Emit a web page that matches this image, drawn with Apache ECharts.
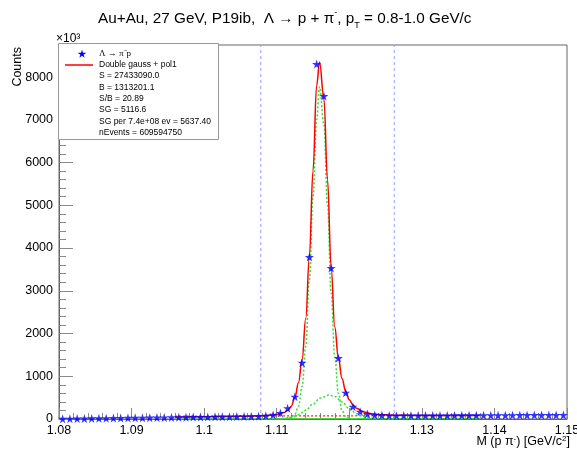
<!DOCTYPE html>
<html><head><meta charset="utf-8">
<script src="https://cdn.jsdelivr.net/npm/echarts@6/dist/echarts.min.js"></script>
<style>html,body{margin:0;padding:0;background:#fff}#c{width:577px;height:451px}</style>
</head><body><div id="c"></div>
<script>
// ---- data ----
const binCenters = [1.0805,1.0815,1.0825,1.0835,1.0845,1.0855,1.0865,1.0875,1.0885,1.0895,
  1.0905,1.0915,1.0925,1.0935,1.0945,1.0955,1.0965,1.0975,1.0985,1.0995,
  1.1005,1.1015,1.1025,1.1035,1.1045,1.1055,1.1065,1.1075,1.1085,1.1095,
  1.1105,1.1115,1.1125,1.1135,1.1145,1.1155,1.1165,1.1175,1.1185,1.1195,
  1.1205,1.1215,1.1225,1.1235,1.1245,1.1255,1.1265,1.1275,1.1285,1.1295,
  1.1305,1.1315,1.1325,1.1335,1.1345,1.1355,1.1365,1.1375,1.1385,1.1395,
  1.1405,1.1415,1.1425,1.1435,1.1445,1.1455,1.1465,1.1475,1.1485,1.1495];
const counts = [5,7,10,12,14,17,19,21,24,26,
  28,30,32,34,36,38,40,42,44,46,
  48,50,52,54,56,58,61,65,76,96,
  142,252,522,1317,3790,8304,7556,3532,1427,615,
  288,171,117,92,85,80,78,79,80,80,
  81,82,82,83,84,84,85,86,86,87,
  88,88,89,90,90,91,92,92,93,94];

const fitX = [1.096,1.100,1.104,1.106,1.108,1.109,1.110,1.111,1.1115,1.112,1.1125,1.113,1.1135,1.114,1.1145,1.115,1.1155,1.1159,1.1165,1.117,1.1175,1.118,1.1185,1.119,1.1195,1.120,1.1205,1.121,1.122,1.123,1.124,1.126,1.130,1.134,1.138];
const fitY = [45,52,60,66,75,85,105,150,200,300,500,850,1400,2350,3800,5800,7800,8350,7500,5600,3550,2150,1420,950,650,450,330,250,165,125,105,90,82,82,84];

const narrowX = [1.1105,1.111,1.1115,1.112,1.1125,1.113,1.1135,1.114,1.1145,1.115,1.1155,1.1159,1.1165,1.117,1.1175,1.118,1.1185,1.119,1.1195,1.120,1.1205,1.121];
const narrowY = [0,5,15,40,110,300,760,1700,3250,5200,7000,7770,6900,5000,2950,1450,600,200,60,15,3,0];

const wideX = [1.108,1.110,1.111,1.112,1.113,1.114,1.115,1.116,1.1172,1.118,1.119,1.120,1.121,1.122,1.123,1.124,1.126];
const wideY = [0,5,15,40,100,205,350,490,560,525,400,245,125,50,17,5,0];

const bkgX = [1.096,1.138];
const bkgY = [66,82];
const baseX = [1.096,1.138];
const baseY = [0,15];

const sigLimits = [1.1078,1.1262];

const legendSeries = ['Λ → π⁻p','Double gauss + pol1'];
const legendLines = ['S = 27433090.0','B = 1313201.1','S/B = 20.89','SG = 5116.6','SG per 7.4e+08 ev = 5637.40','nEvents = 609594750'];
const xTicks = {min:1.08,max:1.15,step:0.01};
const yTicks = {min:0,max:8750,step:1000};

// ---- build ----
const zip = (a,b)=>a.map((v,i)=>[v,b[i]]);
const starPts = [[50,0],[61,35],[98,35],[68,57],[79,91],[50,70],[21,91],[32,57],[2,35],[39,35]];
const star = 'path://M' + starPts.map(p=>p.join(',')).join(' L') + ' Z';
const green = '#33e033';
const ff = '"Liberation Sans", Arial, sans-serif';
const rowTop = 49, rowStep = 11.3;

const chart = echarts.init(document.getElementById('c'), null, {renderer:'canvas'});
const graphics = [
  {type:'rect', left:58, top:43, z:1, shape:{width:160,height:96}, style:{fill:'#fff', stroke:'#999', lineWidth:1}},
  {type:'polygon', z:6, shape:{points:starPts.map(p=>[77.5+p[0]*0.09, 49.5+p[1]*0.09])}, style:{fill:'#0000ff'}},
  {type:'line', z:6, shape:{x1:65, y1:65, x2:93, y2:65}, style:{stroke:'#ff0000', lineWidth:1.5}},
  {type:'text', left:99, top:rowTop, z:6, style:{text:legendSeries[0], font:'9px "Liberation Serif", serif', fill:'#000'}},
  {type:'text', left:99, top:rowTop+rowStep, z:6, style:{text:legendSeries[1], font:'8.5px '+ff, fill:'#000'}},
  {type:'text', left:56, top:33, style:{text:'×10³', font:'12px '+ff, fill:'#000'}},
  {type:'text', right:7, top:435, style:{rich:{a:{fontSize:12.5,fontFamily:'"Liberation Sans"'},s:{fontSize:8,verticalAlign:'top',fontFamily:'"Liberation Sans"',lineHeight:10}}, text:'{a|M (p π}{s|-}{a|) [GeV/c}{s|2}{a|]}', fill:'#000'}},
  {type:'text', x:11, y:47, rotation:Math.PI/2, style:{text:'Counts', font:'12.5px '+ff, fill:'#000', align:'right', verticalAlign:'top'}}
];
legendLines.forEach((t,i)=>{
  graphics.push({type:'text', left:99, top:rowTop+(i+2)*rowStep, z:6, style:{text:t, font:'8.5px '+ff, fill:'#000'}});
});

const limitSeries = sigLimits.map((v,i)=>({name:'lim'+i, type:'line', data:[[v,yTicks.min],[v,yTicks.max]], showSymbol:false, symbol:'none',
  lineStyle:{color:'#9a9aff', type:[3,3], width:1}, z:1, silent:true}));

chart.setOption({
  animation:false,
  backgroundColor:'#fff',
  title:{
    left:93, top:3,
    text:'{a|Au+Au, 27 GeV, P19ib,  Λ → p + π}{sup|-}{a|, p}{sub|T}{a| = 0.8-1.0 GeV/c}',
    textStyle:{fontWeight:'normal', rich:{
      a:{fontSize:15.3,fontFamily:'"Liberation Sans"',fontWeight:'normal',color:'#000',lineHeight:22},
      sup:{fontSize:9,fontFamily:'"Liberation Sans"',fontWeight:'normal',color:'#000',verticalAlign:'top',lineHeight:11},
      sub:{fontSize:9,fontFamily:'"Liberation Sans"',fontWeight:'normal',color:'#000',verticalAlign:'bottom',lineHeight:11}
    }}
  },
  grid:{left:59, right:10, top:45, bottom:32, show:true, borderColor:'#666', borderWidth:1, containLabel:false, outerBoundsMode:'none'},
  xAxis:{type:'value', min:xTicks.min, max:xTicks.max, interval:xTicks.step,
    axisLine:{show:true, onZero:false, lineStyle:{color:'#666'}},
    axisTick:{inside:true, length:11, lineStyle:{color:'#888'}},
    minorTick:{show:true, splitNumber:5, length:6, lineStyle:{color:'#888'}},
    splitLine:{show:false},
    axisLabel:{fontSize:12.5, fontFamily:'"Liberation Sans"', color:'#000', margin:5, hideOverlap:false,
      formatter:v=>String(parseFloat(v.toFixed(3)))}
  },
  yAxis:{type:'value', min:yTicks.min, max:yTicks.max, interval:yTicks.step,
    axisLine:{show:true, lineStyle:{color:'#666'}},
    axisTick:{inside:true, length:14, lineStyle:{color:'#888'}},
    minorTick:{show:true, splitNumber:5, length:7, lineStyle:{color:'#888'}},
    splitLine:{show:false},
    axisLabel:{fontSize:12.5, fontFamily:'"Liberation Sans"', color:'#000', margin:6, showMaxLabel:false,
      formatter:v=> (v % 1000 === 0 ? String(v) : '')}
  },
  graphic:graphics,
  series:limitSeries.concat([
    {name:'base', type:'line', data:zip(baseX,baseY), showSymbol:false, symbol:'none', lineStyle:{color:green, width:1.2}, silent:true, z:2},
    {name:'bkg', type:'line', data:zip(bkgX,bkgY), showSymbol:false, symbol:'none', lineStyle:{color:'#ff2020', width:1.2, type:[2,2]}, z:3},
    {name:'g1', type:'line', data:zip(narrowX,narrowY), smooth:0.4, smoothMonotone:'x', showSymbol:false, symbol:'none', lineStyle:{color:green, width:1.5, type:[2,2]}, z:3},
    {name:'g2', type:'line', data:zip(wideX,wideY), smooth:0.4, smoothMonotone:'x', showSymbol:false, symbol:'none', lineStyle:{color:green, width:1.5, type:[2,2]}, z:3},
    {name:legendSeries[1], type:'line', data:zip(fitX,fitY), smooth:0.4, smoothMonotone:'x', showSymbol:false, symbol:'none', lineStyle:{color:'#ff0000', width:1.5}, z:4},
    {name:legendSeries[0], type:'scatter', data:zip(binCenters,counts), symbol:star, symbolSize:9, itemStyle:{color:'#0000ff'}, z:5}
  ])
});
</script></body></html>
